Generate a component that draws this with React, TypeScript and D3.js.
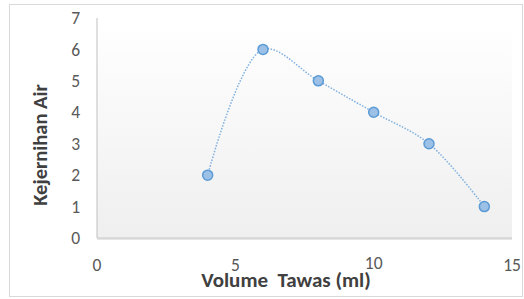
import React from 'react';
import * as d3 from 'd3';

const volume = [4, 6, 8, 10, 12, 14];
const kejernihan = [2, 6, 5, 4, 3, 1];
const xTicks = [0, 5, 10, 15];
const yTicks = [0, 1, 2, 3, 4, 5, 6, 7];

export default function App() {
    const W = 524, H = 299;
    const left = 97, right = 512, top = 18, bottom = 238;

    const x = d3.scaleLinear().domain([0, 15]).range([left, right]);
    const y = d3.scaleLinear().domain([0, 7]).range([bottom, top]);

    const pts: [number, number][] = volume.map((v, i) => [x(v), y(kejernihan[i])]);
    const line = d3.line().curve(d3.curveCatmullRom.alpha(0.5))(pts) || '';

    const font = 'Carlito, Calibri, "Liberation Sans", sans-serif';

    return (
        <svg width={W} height={H} style={{ position: 'absolute', left: 0, top: 0 }}>
            <defs>
                <linearGradient id="bg" x1="0" y1="0" x2="0" y2="1">
                    <stop offset="0" stopColor="#ffffff" />
                    <stop offset="1" stopColor="#efefef" />
                </linearGradient>
            </defs>
            <rect x={0} y={0} width={W} height={H} fill="#ffffff" />
            <rect x={9.5} y={4.5} width={513} height={292} fill="none" stroke="#d9d9d9" />
            <rect x={left} y={top} width={right - left} height={bottom - top} fill="url(#bg)" />
            <line x1={left} x2={right} y1={bottom + 1} y2={bottom + 1} stroke="#e6e6e6" strokeWidth={2} />
            <line x1={left} x2={left} y1={top} y2={bottom} stroke="#bfbfbf" />
            <line x1={left} x2={right} y1={bottom} y2={bottom} stroke="#c8c8c8" />

            {yTicks.map(t => (
                <text key={'y' + t} x={80} y={y(t)} dy="0.35em" textAnchor="end"
                    fontFamily={font} fontSize={17.5} fill="#595959">{t}</text>
            ))}
            {xTicks.map(t => (
                <text key={'x' + t} x={x(t)} y={t === 10 ? 263 : 264.5} dy="0.35em" textAnchor="middle"
                    fontFamily={font} fontSize={17.5} fill="#595959">{t}</text>
            ))}

            <path d={line} fill="none" stroke="#7fb0e0" strokeWidth={1.5} strokeDasharray="1.5 1.5" />
            {pts.map((p, i) => (
                <circle key={i} cx={p[0]} cy={p[1]} r={5} fill="#9dc0e6" stroke="#5b9bd5" strokeWidth={1.5} />
            ))}

            <text x={47} y={145} transform="rotate(-90, 47, 145)" textAnchor="middle"
                fontFamily={font} fontSize={20.5} fontWeight="bold" fill="#404040">Kejernihan Air</text>
            <text x={286} y={287} textAnchor="middle"
                fontFamily={font} fontSize={21} fontWeight="bold" fill="#404040" style={{ whiteSpace: 'pre' }}>Volume  Tawas (ml)</text>
        </svg>
    );
}
